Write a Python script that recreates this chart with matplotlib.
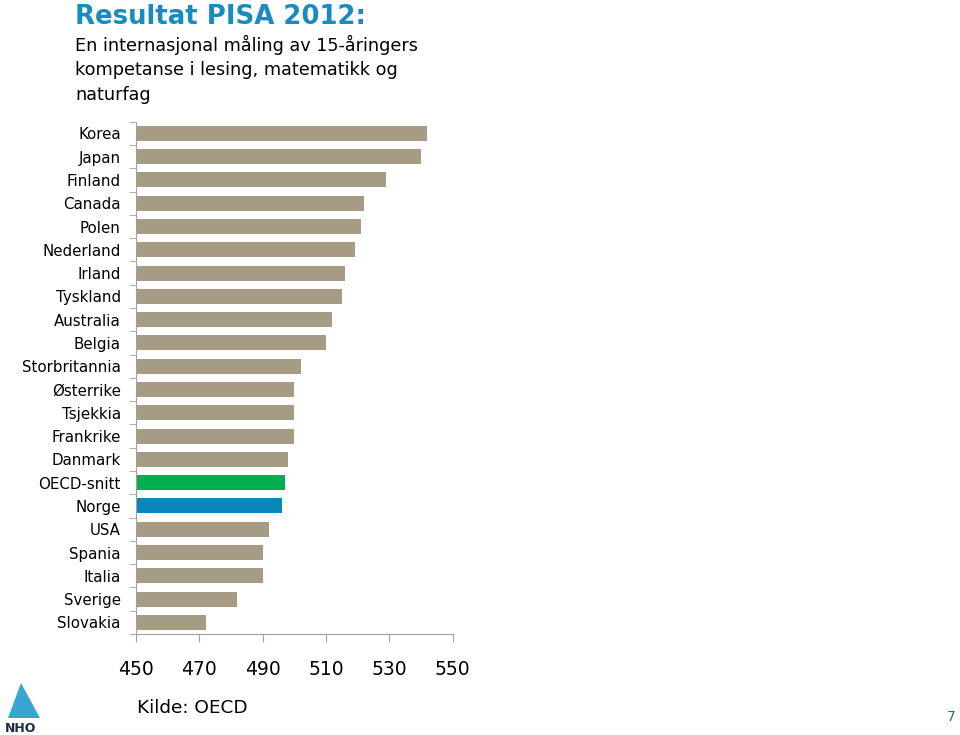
import matplotlib.pyplot as plt
import matplotlib.patches as mpatches
import numpy as np

# data (snitt av lesing, matematikk og naturfag)
countries = ['Korea', 'Japan', 'Finland', 'Canada', 'Polen', 'Nederland', 'Irland',
             'Tyskland', 'Australia', 'Belgia', 'Storbritannia', 'Østerrike',
             'Tsjekkia', 'Frankrike', 'Danmark', 'OECD-snitt', 'Norge', 'USA',
             'Spania', 'Italia', 'Sverige', 'Slovakia']
scores = [542, 540, 529, 522, 521, 519, 516, 515, 512, 510, 502, 500,
          500, 500, 498, 497, 496, 492, 490, 490, 482, 472]
x_ticks = [450, 470, 490, 510, 530, 550]

bar_color = '#A69C84'
highlight = {'OECD-snitt': '#00B050', 'Norge': '#0A87BA'}
colors = [highlight.get(c, bar_color) for c in countries]

fig = plt.figure(figsize=(9.6, 7.35), dpi=100)
ax = fig.add_axes([0.1417, 0.1374, 0.330, 0.697])

y = np.arange(len(countries))
ax.barh(y, np.array(scores) - 450, left=450, height=0.64, color=colors, zorder=2)

ax.set_xlim(450, 550)
ax.set_ylim(len(countries) - 0.5, -0.5)
ax.set_xticks(x_ticks)
ax.set_xticklabels([str(t) for t in x_ticks], fontsize=13.5)
ax.set_yticks(y)
ax.set_yticklabels(countries, fontsize=10.8)
ax.set_yticks(np.arange(len(countries) + 1) - 0.5, minor=True)
ax.tick_params(axis='y', which='major', length=0, pad=11)
ax.tick_params(axis='y', which='minor', length=5, color='#A0A0A0', direction='out')
ax.tick_params(axis='x', length=6, color='#A0A0A0', pad=13)

for s in ['top', 'right']:
    ax.spines[s].set_visible(False)
for s in ['left', 'bottom']:
    ax.spines[s].set_color('#A0A0A0')

# tekst
fig.text(75 / 960, 1 - 17 / 735, 'Resultat PISA 2012:', fontsize=18.7, fontweight='bold',
         color='#1A8BBF', va='center', ha='left')
sub = ['En internasjonal måling av 15-åringers',
       'kompetanse i lesing, matematikk og',
       'naturfag']
for i, line in enumerate(sub):
    fig.text(75 / 960, 1 - (45 + 25 * i) / 735, line, fontsize=12.7, va='center', ha='left')

fig.text(137 / 960, 1 - 708 / 735, 'Kilde: OECD', fontsize=13.3, va='center', ha='left')
fig.text(951 / 960, 1 - 717 / 735, '7', fontsize=10, color='#1F6E8C', va='center', ha='center')

# NHO-logo (forenklet)
tri = mpatches.Polygon([[8 / 960, 1 - 718 / 735], [21 / 960, 1 - 683 / 735],
                        [40 / 960, 1 - 718 / 735]], closed=True,
                       facecolor='#3AA6CF', edgecolor='none', transform=fig.transFigure)
fig.patches.append(tri)
fig.text(21 / 960, 1 - 728 / 735, 'NHO', fontsize=9, fontweight='bold', color='#1B2A4A',
         va='center', ha='center')

fig.savefig('out.png', dpi=100)
